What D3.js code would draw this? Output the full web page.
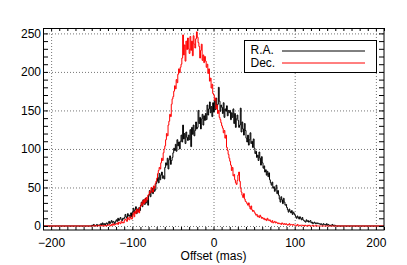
<!DOCTYPE html>
<html>
<head>
<meta charset="utf-8">
<script src="https://cdn.jsdelivr.net/npm/d3@7"></script>
<style>
  body { margin: 0; background: #fff; }
  text { font-family: "Liberation Sans", Arial, Helvetica, sans-serif; font-size: 12px; fill: #000; }
</style>
</head>
<body>
<div id="chart"></div>
<script>
// histogram bins: 1 mas wide, starting at -150 mas (one row = 10 mas)
var binStart = -150;
var binWidth = 1;

var seriesNames = ["R.A.", "Dec."];

var raCounts = [
  1, 0, 2, 1, 0, 1, 2, 0, 1, 1,
  2, 3, 1, 4, 2, 3, 1, 3, 4, 2,
  4, 6, 3, 5, 7, 4, 6, 5, 3, 6,
  8, 6, 10, 7, 9, 11, 8, 7, 10, 9,
  11, 15, 12, 10, 16, 13, 14, 11, 17, 12,
  18, 23, 17, 21, 25, 16, 22, 19, 24, 20,
  27, 31, 25, 34, 29, 28, 36, 30, 33, 27,
  40, 46, 38, 44, 49, 42, 51, 45, 47, 55,
  58, 63, 56, 68, 60, 66, 70, 62, 65, 61,
  76, 82, 79, 88, 74, 86, 91, 80, 85, 89,
  95, 101, 98, 106, 97, 112, 104, 109, 100, 110,
  118, 109, 131, 113, 120, 107, 122, 115, 111, 118,
  112, 125, 103, 128, 119, 131, 117, 124, 135, 126,
  128, 150, 133, 141, 126, 139, 145, 131, 143, 137,
  146, 138, 157, 144, 152, 161, 147, 155, 142, 160,
  148, 163, 151, 166, 155, 158, 180, 162, 149, 157,
  154, 146, 160, 141, 152, 149, 156, 143, 150, 147,
  150, 138, 147, 141, 152, 133, 146, 128, 139, 144,
  137, 128, 131, 153, 122, 135, 126, 118, 133, 124,
  114, 109, 118, 105, 112, 121, 107, 110, 102, 113,
  101, 94, 97, 89, 92, 85, 96, 88, 79, 90,
  82, 75, 78, 70, 73, 66, 71, 64, 69, 60,
  56, 53, 57, 49, 51, 45, 48, 53, 42, 46,
  40, 35, 31, 38, 34, 29, 36, 31, 27, 28,
  24, 21, 18, 22, 19, 17, 20, 15, 18, 16,
  14, 12, 10, 13, 11, 9, 12, 10, 8, 11,
  8, 7, 6, 5, 8, 6, 7, 5, 6, 7,
  4, 5, 3, 4, 5, 3, 4, 3, 4, 3,
  3, 2, 3, 2, 1, 3, 2, 2, 1, 3,
  1, 2, 1, 0, 1, 1, 2, 0, 1, 1
];

var decCounts = [
  0, 0, 0, 1, 0, 0, 0, 0, 1, 0,
  0, 1, 0, 0, 1, 0, 0, 1, 0, 1,
  1, 2, 1, 0, 2, 1, 3, 1, 2, 2,
  3, 4, 2, 5, 4, 3, 6, 4, 5, 4,
  7, 9, 8, 6, 11, 9, 8, 12, 10, 9,
  14, 17, 12, 19, 16, 22, 18, 21, 17, 24,
  26, 30, 27, 33, 29, 35, 31, 37, 34, 40,
  41, 45, 43, 50, 47, 44, 52, 49, 55, 58,
  62, 68, 72, 76, 74, 82, 88, 85, 95, 100,
  104, 112, 120, 117, 131, 136, 145, 142, 158, 165,
  168, 175, 182, 178, 190, 186, 197, 204, 199, 206,
  210, 218, 248, 222, 235, 214, 240, 229, 244, 230,
  224, 246, 228, 240, 221, 247, 236, 231, 243, 252,
  245, 238, 233, 218, 228, 236, 215, 222, 212, 220,
  214, 206, 210, 198, 204, 188, 192, 179, 184, 172,
  170, 163, 166, 152, 157, 146, 150, 141, 138, 134,
  130, 127, 121, 124, 114, 118, 102, 98, 93, 88,
  84, 79, 72, 76, 65, 67, 60, 56, 54, 59,
  66, 70, 58, 49, 44, 40, 37, 42, 35, 32,
  31, 29, 27, 30, 25, 22, 26, 21, 19, 20,
  18, 16, 14, 15, 12, 13, 11, 14, 12, 10,
  11, 9, 10, 8, 9, 7, 10, 8, 7, 8,
  6, 5, 7, 4, 5, 6, 4, 5, 4, 3,
  4, 3, 3, 2, 4, 3, 2, 3, 2, 3,
  2, 1, 2, 3, 1, 2, 2, 1, 2, 1,
  1, 1, 0, 2, 1, 1, 0, 1, 1, 1,
  0, 1, 0, 1, 0, 0, 1, 0, 1, 0,
  0, 0, 1, 0, 0, 0, 1, 0, 0, 0,
  0, 0, 0, 0, 0, 0, 0, 0, 0, 0,
  0, 0, 0, 0, 0, 0, 0, 0, 0, 0
];

var xTicks = [-200, -100, 0, 100, 200];
var yTicks = [0, 50, 100, 150, 200, 250];
var xLabel = "Offset (mas)";

var svgWidth = 407;
var svgHeight = 265;

var margin = { top: 28, right: 23, bottom: 35, left: 43 };
var width = svgWidth - margin.left - margin.right;
var height = svgHeight - margin.top - margin.bottom;

var svg = d3.select("#chart")
  .append("svg")
  .attr("width", svgWidth)
  .attr("height", svgHeight);

var chartGroup = svg.append("g")
  .attr("transform", `translate(${margin.left}, ${margin.top})`);

// scales
var xScale = d3.scaleLinear()
  .domain([-210, 210])
  .range([0, width]);

var yScale = d3.scaleLinear()
  .domain([-5.2, 257])
  .range([height, 0]);

// dotted grid at the major ticks
var xGrid = chartGroup.append("g")
  .attr("transform", `translate(0, ${height})`)
  .call(d3.axisBottom(xScale).tickValues(xTicks).tickSize(-height).tickFormat(""));
var yGrid = chartGroup.append("g")
  .call(d3.axisLeft(yScale).tickValues(yTicks).tickSize(-width).tickFormat(""));
[xGrid, yGrid].forEach(function(g) {
  g.select(".domain").remove();
  g.selectAll("line")
    .attr("stroke", "#777")
    .attr("stroke-dasharray", "1,2");
});

// step histograms
function stepPoints(counts) {
  var pts = [[xScale.domain()[0], 0]];
  counts.forEach(function(c, i) {
    pts.push([binStart + i * binWidth, c]);
  });
  pts.push([binStart + counts.length * binWidth, 0]);
  pts.push([xScale.domain()[1], 0]);
  return pts;
}

var stepLine = d3.line()
  .x(d => xScale(d[0]))
  .y(d => yScale(d[1]))
  .curve(d3.curveStepAfter);

var colors = ["#000", "#ff0000"];
[raCounts, decCounts].forEach(function(counts, i) {
  chartGroup.append("path")
    .datum(stepPoints(counts))
    .attr("fill", "none")
    .attr("stroke", colors[i])
    .attr("stroke-width", 1)
    .attr("d", stepLine);
});

// minor ticks (inward) on all four sides
var minorX = d3.range(-210, 211, 10);
var minorY = d3.range(0, 251, 10);
var tickAxes = [
  chartGroup.append("g").attr("transform", `translate(0, ${height})`)
    .call(d3.axisBottom(xScale).tickValues(minorX).tickSize(-3).tickFormat("")),
  chartGroup.append("g")
    .call(d3.axisTop(xScale).tickValues(minorX).tickSize(-3).tickFormat("")),
  chartGroup.append("g")
    .call(d3.axisLeft(yScale).tickValues(minorY).tickSize(-5).tickFormat("")),
  chartGroup.append("g").attr("transform", `translate(${width}, 0)`)
    .call(d3.axisRight(yScale).tickValues(minorY).tickSize(-5).tickFormat(""))
];
tickAxes.forEach(function(g) {
  g.select(".domain").remove();
  g.selectAll("line").attr("stroke", "#000");
});

// frame
chartGroup.append("rect")
  .attr("x", 0.5)
  .attr("y", 0.5)
  .attr("width", width - 0.5)
  .attr("height", height - 0.5)
  .attr("fill", "none")
  .attr("stroke", "#000");

// tick labels
var bottomLabels = chartGroup.append("g")
  .attr("transform", `translate(0, ${height})`)
  .call(d3.axisBottom(xScale).tickValues(xTicks).tickSize(0).tickPadding(8.5));
var leftLabels = chartGroup.append("g")
  .call(d3.axisLeft(yScale).tickValues(yTicks).tickSize(0).tickPadding(2));
[bottomLabels, leftLabels].forEach(function(g) {
  g.select(".domain").remove();
  g.selectAll("text")
    .attr("fill", "#000");
  g.attr("font-family", null).attr("font-size", null);
});

// x axis title
chartGroup.append("text")
  .attr("x", xScale(0))
  .attr("y", height + 30)
  .attr("text-anchor", "middle")
  .text(xLabel);

// legend
var legend = svg.append("g")
  .attr("transform", "translate(244.5, 40.5)");

legend.append("rect")
  .attr("width", 132)
  .attr("height", 32)
  .attr("fill", "#fff")
  .attr("stroke", "#000");

seriesNames.forEach(function(name, i) {
  legend.append("text")
    .attr("x", 6)
    .attr("y", 13 + 13 * i)
    .text(name);
  legend.append("line")
    .attr("x1", 37.5)
    .attr("x2", 120.5)
    .attr("y1", 10.5 + 12 * i)
    .attr("y2", 10.5 + 12 * i)
    .attr("stroke", colors[i]);
});
</script>
</body>
</html>
